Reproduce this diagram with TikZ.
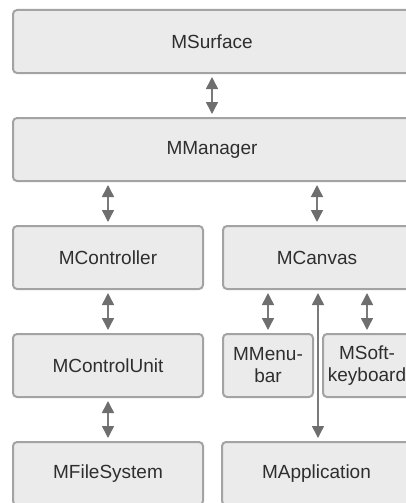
\documentclass[tikz,border=0pt]{standalone}
\usepackage{fontspec}
\setmainfont{Liberation Sans}
\usetikzlibrary{arrows.meta}
\definecolor{boxfill}{HTML}{EBEBEB}
\definecolor{boxline}{HTML}{A3A3A3}
\definecolor{txt}{HTML}{2E2E2E}
\definecolor{arr}{HTML}{7A7A7A}
\definecolor{arrhead}{HTML}{6E6E6E}
\tikzset{
  blk/.style={draw=boxline, fill=boxfill, line width=2pt, rounded corners=4pt,
    minimum height=63pt, inner sep=0pt, text=txt, align=center,
    font=\fontsize{19}{22}\selectfont},
  link/.style={draw=arr, line width=1.5pt,
    {Triangle[width=12pt,length=12pt,fill=arrhead,color=arrhead]}-{Triangle[width=12pt,length=12pt,fill=arrhead,color=arrhead]}, shorten <=3pt, shorten >=3pt}
}
\begin{document}
\begin{tikzpicture}[x=1pt,y=-1pt]
\useasboundingbox (0,0) rectangle (406,503);
\clip (0,0) rectangle (406,503);
\node[blk, minimum width=398pt] (surf) at (212,41.5) {MSurface};
\node[blk, minimum width=398pt] (mgr) at (212,149.5) {MManager};
\node[blk, minimum width=190pt] (ctrl) at (108,257.5) {MController};
\node[blk, minimum width=188pt] (canv) at (317,257.5) {MCanvas};
\node[blk, minimum width=190pt] (cunit) at (108,365.5) {MControlUnit};
\node[blk, minimum width=90pt] (menu) at (268,365.5) {MMenu-\\bar};
\node[blk, minimum width=88pt] (soft) at (367,365.5) {MSoft-\\keyboard};
\node[blk, minimum width=190pt] (fs) at (108,473.5) {MFileSystem};
\node[blk, minimum width=189pt] (app) at (316.5,473.5) {MApplication};
\draw[link] (surf.south) -- (mgr.north);
\draw[link] (mgr.south -| ctrl.north) -- (ctrl.north);
\draw[link] (mgr.south -| canv.north) -- (canv.north);
\draw[link] (ctrl.south) -- (cunit.north);
\draw[link] (cunit.south) -- (fs.north);
\draw[link] (canv.south -| menu.north) -- (menu.north);
\draw[link] (canv.south -| soft.north) -- (soft.north);
\draw[link] (canv.south -| 318,0) -- (app.north -| 318,0);
\end{tikzpicture}
\end{document}
